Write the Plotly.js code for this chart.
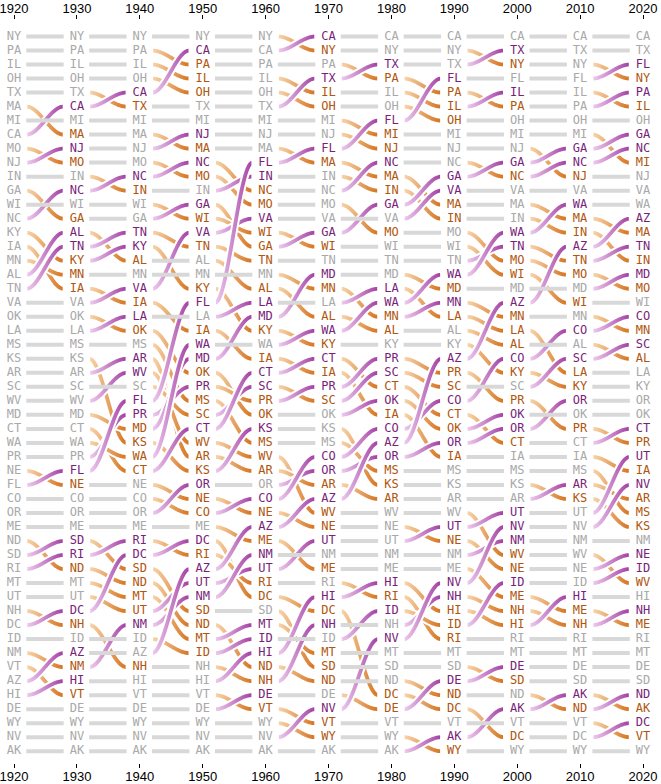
<!DOCTYPE html>
<html><head><meta charset="utf-8">
<script src="https://cdn.plot.ly/plotly-3.0.1.min.js"></script>
<style>html,body{margin:0;padding:0;background:#fff}#chart{width:661px;height:784px}</style>
</head><body><div id="chart"></div>
<script>
const years = [1920,1930,1940,1950,1960,1970,1980,1990,2000,2010,2020];
const rank1920 = ["NY","PA","IL","OH","TX","MA","MI","CA","MO","NJ","IN","GA","WI","NC","KY","IA","MN","AL","TN","VA","OK","LA","MS","KS","AR","SC","WV","MD","CT","WA","PR","NE","FL","CO","OR","ME","ND","SD","RI","MT","UT","NH","DC","ID","NM","VT","AZ","HI","DE","WY","NV","AK"];
const rank1930 = ["NY","PA","IL","OH","TX","CA","MI","MA","NJ","MO","IN","NC","WI","GA","AL","TN","KY","MN","IA","VA","OK","LA","MS","KS","AR","SC","WV","MD","CT","WA","PR","FL","NE","CO","OR","ME","SD","RI","ND","MT","UT","DC","NH","ID","AZ","NM","HI","VT","DE","WY","NV","AK"];
const rank1940 = ["NY","PA","IL","OH","CA","TX","MI","MA","NJ","MO","NC","IN","WI","GA","TN","KY","AL","MN","VA","IA","LA","OK","MS","AR","WV","SC","FL","PR","MD","KS","WA","CT","NE","CO","OR","ME","RI","DC","SD","ND","MT","UT","NM","ID","AZ","NH","HI","VT","DE","WY","NV","AK"];
const rank1950 = ["NY","CA","PA","IL","OH","TX","MI","NJ","MA","NC","MO","IN","GA","WI","VA","TN","AL","MN","KY","FL","LA","IA","WA","MD","OK","PR","MS","SC","CT","WV","AR","KS","OR","NE","CO","ME","DC","RI","AZ","UT","NM","SD","ND","MT","ID","NH","HI","VT","DE","WY","NV","AK"];
const rank1960 = ["NY","CA","PA","IL","OH","TX","MI","NJ","MA","FL","IN","NC","MO","VA","WI","GA","TN","MN","AL","LA","MD","KY","WA","IA","CT","SC","PR","OK","KS","MS","WV","AR","OR","CO","NE","AZ","ME","NM","UT","RI","DC","SD","MT","ID","HI","ND","NH","DE","VT","WY","NV","AK"];
const rank1970 = ["CA","NY","PA","TX","IL","OH","MI","NJ","FL","MA","IN","NC","MO","VA","GA","WI","TN","MD","MN","LA","AL","WA","KY","CT","IA","PR","SC","OK","KS","MS","CO","OR","AR","AZ","WV","NE","UT","NM","ME","RI","HI","DC","NH","ID","MT","SD","ND","DE","NV","VT","WY","AK"];
const rank1980 = ["CA","NY","TX","PA","IL","OH","FL","MI","NJ","NC","MA","IN","GA","VA","MO","WI","TN","MD","LA","WA","MN","AL","KY","PR","SC","CT","OK","IA","CO","AZ","OR","MS","KS","AR","WV","NE","UT","NM","ME","HI","RI","ID","NH","NV","MT","SD","ND","DC","DE","VT","WY","AK"];
const rank1990 = ["CA","NY","TX","FL","PA","IL","OH","MI","NJ","NC","GA","VA","MA","IN","MO","WI","TN","WA","MD","MN","LA","AL","KY","AZ","PR","SC","CO","CT","OK","OR","IA","MS","KS","AR","WV","UT","NE","NM","ME","NV","NH","HI","ID","RI","MT","SD","DE","ND","DC","VT","AK","WY"];
const rank2000 = ["CA","TX","NY","FL","IL","PA","OH","MI","NJ","GA","NC","VA","MA","IN","WA","TN","MO","WI","MD","AZ","MN","LA","AL","CO","KY","SC","PR","OK","OR","CT","IA","MS","KS","AR","UT","NV","NM","WV","NE","ID","ME","NH","HI","RI","MT","DE","SD","ND","AK","VT","DC","WY"];
const rank2010 = ["CA","TX","NY","FL","IL","PA","OH","MI","GA","NC","NJ","VA","WA","MA","IN","AZ","TN","MO","MD","WI","MN","CO","AL","SC","LA","KY","OR","OK","PR","CT","IA","MS","AR","KS","UT","NV","NM","WV","NE","ID","HI","ME","NH","RI","MT","DE","SD","AK","ND","VT","DC","WY"];
const rank2020 = ["CA","TX","FL","NY","PA","IL","OH","GA","NC","MI","NJ","VA","WA","AZ","MA","TN","IN","MD","MO","WI","CO","MN","SC","AL","LA","KY","OR","OK","CT","PR","UT","IA","NV","AR","MS","KS","NM","NE","ID","WV","HI","NH","ME","RI","MT","DE","SD","ND","AK","DC","VT","WY"];
const orders = [rank1920,rank1930,rank1940,rank1950,rank1960,rank1970,rank1980,rank1990,rank2000,rank2010,rank2020];

const W=661, H=784, M={l:0,r:0,t:20,b:21};
const xRange=[1917.774, 2022.862], yRange=[52.842, -0.1774];
const sx=(W-M.l-M.r)/(xRange[1]-xRange[0]);
const sy=(H-M.t-M.b)/(yRange[0]-yRange[1]);
const startGap=1.95, endGap=2.1, half=2.9, ctrl=0.35;

const C = {
  grayText:'#a9a9a9', grayLine:'#d8d8d8',
  upText:'#7a1f7a', downText:'#b0560e',
  upScale:[[0,'#efcdef'],[1,'#a23fa2']],
  downScale:[[0,'#f8d6ad'],[1,'#d5731f']]
};

const grayX=[], grayY=[], up=[], down=[];
for(let i=0;i<orders.length-1;i++){
  const a=orders[i], b=orders[i+1];
  a.forEach((s,ia)=>{
    const r0=ia+1, r1=b.indexOf(s)+1;
    const x0=years[i]+startGap, x1=years[i+1]-endGap;
    if(r0===r1){grayX.push(x0,x1,null); grayY.push(r0,r1,null);}
    else (r1<r0?up:down).push({x0,x1,r0,r1});
  });
}

function ribbon(c){
  const N=60, L=[], R=[];
  const X0=c.x0*sx, X1=c.x1*sx, Y0=c.r0*sy, Y1=c.r1*sy;
  const XA=X0+ctrl*(X1-X0), XB=X1-ctrl*(X1-X0);
  for(let k=0;k<=N;k++){
    const t=k/N, u=1-t;
    const X=u*u*u*X0+3*u*u*t*XA+3*u*t*t*XB+t*t*t*X1;
    const Y=u*u*u*Y0+3*u*u*t*Y0+3*u*t*t*Y1+t*t*t*Y1;
    const dX=3*u*u*(XA-X0)+6*u*t*(XB-XA)+3*t*t*(X1-XB);
    const dY=6*u*t*(Y1-Y0);
    const len=Math.hypot(dX,dY)||1;
    const nx=-dY/len, ny=dX/len;
    L.push([X+nx*half, Y+ny*half]);
    R.push([X-nx*half, Y-ny*half]);
  }
  const pts=L.concat(R.reverse()); pts.push(L[0]);
  return {x:pts.map(p=>p[0]/sx), y:pts.map(p=>p[1]/sy)};
}

const traces=[];
traces.push({type:'scatter',mode:'lines',x:grayX,y:grayY,xaxis:'x2',line:{color:C.grayLine,width:4},hoverinfo:'skip',showlegend:false});
function addCurves(list, scale){
  list.forEach(c=>{
    const r=ribbon(c);
    traces.push({type:'scatter',mode:'lines',x:r.x,y:r.y,fill:'toself',
      line:{color:'#ffffff',width:2,simplify:false},
      fillgradient:{type:'horizontal',colorscale:scale},
      fillcolor:scale[1][1],hoverinfo:'skip',showlegend:false});
  });
}
addCurves(down, C.downScale);
addCurves(up, C.upScale);

orders.forEach((ord,i)=>{
  const cols=ord.map((s,k)=>{
    if(i===0) return C.grayText;
    const prev=orders[i-1].indexOf(s);
    return prev===k?C.grayText:(k<prev?C.upText:C.downText);
  });
  traces.push({type:'scatter',mode:'text',x:ord.map(()=>years[i]),y:ord.map((s,k)=>k+1),
    text:ord,textposition:'middle center',
    textfont:{family:'DejaVu Sans Mono, monospace',size:12,color:cols},
    hoverinfo:'skip',showlegend:false});
});

const axisCommon={range:xRange,tickvals:years,ticktext:years.map(String),ticks:'outside',ticklen:4,tickwidth:1,tickcolor:'#000',
  ticklabeloverflow:'allow',
  showgrid:false,zeroline:false,showline:false,tickfont:{family:'Liberation Sans, Arial, sans-serif',size:13,color:'#000'}};
const layout={
  width:W,height:H,margin:M,paper_bgcolor:'#fff',plot_bgcolor:'#fff',showlegend:false,
  xaxis:Object.assign({},axisCommon,{side:'bottom',ticklabelstandoff:-3}),
  xaxis2:Object.assign({},axisCommon,{side:'top',overlaying:'x',anchor:'y',ticklabelstandoff:-3}),
  yaxis:{range:yRange,visible:false,showgrid:false,zeroline:false}
};
Plotly.newPlot('chart',traces,layout,{staticPlot:true,displayModeBar:false});
</script></body></html>
